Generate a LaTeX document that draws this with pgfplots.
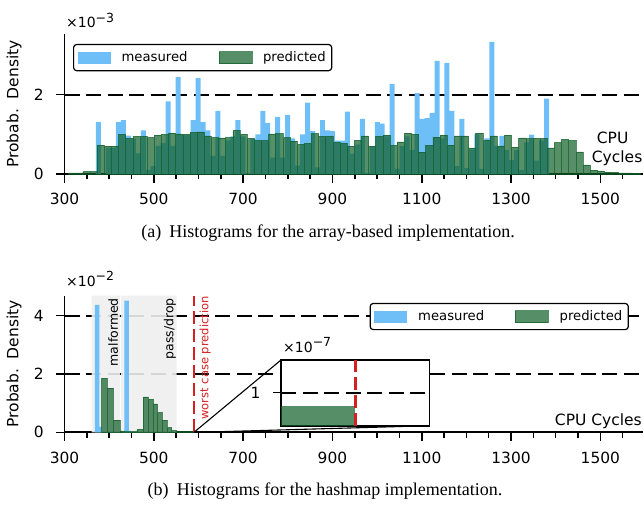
\documentclass[border=0pt]{standalone}
\usepackage{fontspec}
\setmainfont{DejaVu Sans}
\newfontfamily\capfont{Liberation Serif}
\usepackage{pgfplots}
\usepackage{pgfplotstable}
\pgfplotsset{compat=1.18}

\definecolor{measblue}{RGB}{110,190,248}
\definecolor{predgreen}{RGB}{15,95,40}
\definecolor{bandgray}{RGB}{238,238,238}
\definecolor{wcred}{RGB}{214,32,32}

% measured histogram (array), left bin edges, density x 1e-3
\pgfplotstableread{
e h
370.50 1.31
381.65 0.00
392.80 0.66
403.95 0.66
415.10 1.31
426.25 1.36
437.40 0.97
448.55 0.89
459.70 0.52
470.85 1.10
482.00 0.10
493.15 0.20
504.30 0.71
515.45 0.78
526.60 1.83
537.75 0.71
548.90 2.45
560.05 0.98
571.20 0.98
582.35 1.36
593.50 2.42
604.65 1.31
615.80 1.10
626.95 0.46
638.10 1.59
649.25 0.46
660.40 0.85
671.55 0.95
682.70 1.36
693.85 0.95
705.00 0.02
716.15 0.88
727.30 1.00
738.45 1.59
749.60 1.28
760.75 0.41
771.90 1.44
783.05 0.41
794.20 1.49
805.35 0.90
816.50 0.21
827.65 1.00
838.80 1.80
849.95 1.08
861.10 0.17
872.25 1.36
883.40 1.10
894.55 1.08
905.70 0.84
916.85 0.84
928.00 1.57
939.15 0.51
950.30 0.74
961.45 1.39
972.60 0.02
983.75 0.69
994.90 1.31
1006.05 1.27
1017.20 0.95
1028.35 2.27
1039.50 0.13
1050.65 0.70
1061.80 0.95
1072.95 0.60
1084.10 2.04
1095.25 1.39
1106.40 1.41
1117.55 1.54
1128.70 2.85
1139.85 0.90
1151.00 2.80
1162.15 1.59
1173.30 0.20
1184.45 1.39
1195.60 0.15
1206.75 0.62
1217.90 1.00
1229.05 0.13
1240.20 0.90
1251.35 3.33
1262.50 0.70
1273.65 0.96
1284.80 0.60
1295.95 0.35
1307.10 0.60
1318.25 0.10
1329.40 0.80
1340.55 0.99
1351.70 0.34
1362.85 0.85
1374.00 1.90
1385.15 0.00
}\measA

% predicted histogram (array)
\pgfplotstableread{
e h
309 0.03
325 0.03
341 0.06
357 0.06
373 0.73
389 0.70
405 0.70
421 1.00
437 0.90
453 0.95
469 0.95
485 0.92
501 0.98
517 1.00
533 1.03
549 1.01
565 1.00
581 1.05
597 1.06
613 0.96
629 0.92
645 0.91
661 0.92
677 1.10
693 1.00
709 0.90
725 0.84
741 0.84
757 1.01
773 1.02
789 0.92
805 0.83
821 0.75
837 0.77
853 1.02
869 0.95
885 0.95
901 0.80
917 0.77
933 0.70
949 0.85
965 0.96
981 0.70
997 0.95
1013 0.98
1029 0.72
1045 0.81
1061 1.03
1077 1.00
1093 0.55
1109 0.72
1125 0.93
1141 0.98
1157 0.73
1173 0.96
1189 0.96
1205 0.66
1221 1.03
1237 0.85
1253 0.96
1269 0.71
1285 0.98
1301 0.68
1317 0.91
1333 0.89
1349 0.90
1365 0.90
1381 0.66
1397 0.79
1413 0.87
1429 0.84
1445 0.56
1461 0.23
1477 0.10
1493 0.08
1509 0.05
1525 0.04
1541 0.03
1557 0.03
1573 0.02
1589 0.00
}\predA

% predicted histogram (hashmap), density x 1e-2
\pgfplotstableread{
e h
383 1.85
395 1.51
409 0.42
424 0.05
436 0.02
462 0.10
476 1.21
488 1.13
499 0.97
508 0.67
518 0.42
529 0.16
540 0.06
551 0.02
590 0.00
}\predB

\pgfplotsset{
  gridline/.style={black, line width=2pt, dash pattern=on 15pt off 6.5pt},
  wcline/.style={wcred, line width=2.7pt, dash pattern=on 13pt off 5pt},
  histax/.style={
    scale only axis, width=578.5pt, anchor=south west,
    xmin=300, xmax=1595.6, ymin=0, clip=false,
    axis x line*=bottom, axis y line*=left,
    axis line style={-, line width=1.8pt, black},
    x axis line style={line width=1.8pt},
    y axis line style={line width=1.8pt},
    xtick={300,500,...,1500},
    minor xtick={350,400,...,1550},
    tick align=outside,
    major tick length=8.7pt, minor tick length=5.3pt,
    major tick style={black, line width=1.6pt},
    minor tick style={black, line width=1.6pt},
    tick label style={font=\fontsize{15.4}{18}\selectfont},
    /pgf/number format/assume math mode=true,
    /pgf/number format/1000 sep={},
    xticklabel style={anchor=north, inner sep=0pt, yshift=-10.6pt},
    yticklabel style={anchor=east, inner sep=0pt, xshift=-12pt},
    ymajorgrids,
    major grid style={gridline},
    ylabel={Probab.\hspace{0.2em} Density},
    ylabel style={at={(axis description cs:-0.0873,0.5)}, anchor=center,
      font=\fontsize{15.5}{18}\selectfont},
    legend columns=2,
    legend cell align=left,
    legend style={anchor=north west, draw=black, line width=1.2pt,
      rounded corners=3pt, fill=white,
      font=\fontsize{13.2}{16}\selectfont,
      inner xsep=4pt, inner ysep=5.3pt,
      nodes={inner sep=2pt},
      /tikz/every odd column/.append style={column sep=9pt},
      /tikz/every even column/.append style={column sep=29pt}},
  },
  measbar/.style={ybar interval, fill=measblue, draw=none,
    legend image code/.code={\fill[measblue, sharp corners] (0pt,-6pt) rectangle (33pt,6pt);}},
  predbar/.style={ybar interval, fill=predgreen, draw=predgreen, line width=0.5pt, opacity=0.7,
    legend image code/.code={\fill[predgreen, opacity=0.7, sharp corners] (0pt,-6pt) rectangle (33pt,6pt);}},
}

\newcommand{\offsettext}[1]{×10\raisebox{0.42em}{\fontsize{12.5}{14}\selectfont −#1}}

\begin{document}
\begin{tikzpicture}
\useasboundingbox (0pt,0pt) rectangle (644pt,504pt);

% (a) array-based
\begin{axis}[histax, at={(64.5pt,330pt)}, height=140pt, ymax=3.53, ytick={0,2},
  legend style={at={(0.0147,0.929)}}]
\addplot[measbar] table[x=e, y=h] {\measA};
\addplot[predbar] table[x=e, y=h] {\predA};
\legend{measured, predicted}
\end{axis}
\node[anchor=base west, font=\fontsize{14}{17}\selectfont, inner sep=0pt] at (66pt,476pt) {\offsettext{3}};
\node[anchor=base west, font=\fontsize{15.5}{18}\selectfont, inner sep=0pt] at (596.7pt,360.7pt) {CPU};
\node[anchor=base west, font=\fontsize{15.5}{18}\selectfont, inner sep=0pt] at (591.7pt,341.7pt) {Cycles};
\node[anchor=base, font=\capfont\fontsize{18}{21}\selectfont, inner sep=0pt] at (328pt,266.7pt)
  {(a)\hspace{0.45em}Histograms for the array-based implementation.};

% (b) hashmap
\begin{axis}[histax, at={(64.5pt,71.7pt)}, height=136.8pt, ymax=4.685, ytick={0,2,4},
  legend style={at={(0.5274,0.946)}}]
\addplot[fill=bandgray, draw=none, fill opacity=0.9, forget plot]
  coordinates {(361,0) (361,4.685) (424,4.685) (424,0)} \closedcycle;
\addplot[fill=bandgray, draw=none, fill opacity=0.9, forget plot]
  coordinates {(427,0) (427,4.685) (551,4.685) (551,0)} \closedcycle;
\addplot[measbar] coordinates {(368,4.36) (378,0.19) (383,0) (434,4.51) (444,0.05) (449,0)};
\addplot[predbar] table[x=e, y=h] {\predB};
\addplot[wcline, forget plot] coordinates {(590,0) (590,4.685)};
\node[rotate=90, anchor=east, inner sep=0pt, font=\fontsize{12.5}{14}\selectfont] at (axis cs:409,4.6) {malformed};
\node[rotate=90, anchor=east, inner sep=0pt, font=\fontsize{12.5}{14}\selectfont] at (axis cs:536,4.6) {pass/drop};
\node[rotate=90, anchor=east, inner sep=0pt, text=wcred, font=\fontsize{11.5}{13}\selectfont] at (axis cs:615,4.66) {worst case prediction};
\coordinate (zA) at (axis cs:590,0);
\coordinate (zB) at (axis cs:600,0);
\legend{measured, predicted}
\end{axis}
\node[anchor=base west, font=\fontsize{14}{17}\selectfont, inner sep=0pt] at (66pt,217.3pt) {\offsettext{2}};
\node[anchor=base east, font=\fontsize{15.5}{18}\selectfont, inner sep=0pt] at (642pt,79pt) {CPU Cycles};

% inset
\begin{axis}[at={(281pt,78.3pt)}, anchor=south west, scale only axis,
  width=148.3pt, height=65.7pt, xmin=580, xmax=600, ymin=0, ymax=1.99,
  xtick=\empty, ytick={1}, ytick pos=left, tick align=outside,
  major tick length=8.3pt, major tick style={black, line width=1.6pt},
  axis line style={line width=1.6pt, black},
  tick label style={font=\fontsize{15.4}{18}\selectfont},
  /pgf/number format/assume math mode=true,
  yticklabel style={anchor=east, inner sep=0pt, xshift=-12pt},
  ymajorgrids,
  major grid style={gridline},
  axis background/.style={fill=white}]
\addplot[ybar interval, fill=predgreen, opacity=0.7, draw=none] coordinates {(575,0.6) (590,0)};
\addplot[wcline] coordinates {(590,0) (590,1.99)};
\coordinate (iTL) at (rel axis cs:0,1);
\coordinate (iBR) at (rel axis cs:1,0);
\end{axis}
\draw[line width=1.1pt] (zA) -- (iTL);
\draw[line width=1.1pt] (zB) -- (iBR);
\node[anchor=base west, font=\fontsize{14}{17}\selectfont, inner sep=0pt] at (283pt,151.3pt) {\offsettext{7}};
\node[anchor=base, font=\capfont\fontsize{18}{21}\selectfont, inner sep=0pt] at (325pt,9pt)
  {(b)\hspace{0.45em}Histograms for the hashmap implementation.};
\end{tikzpicture}
\end{document}
